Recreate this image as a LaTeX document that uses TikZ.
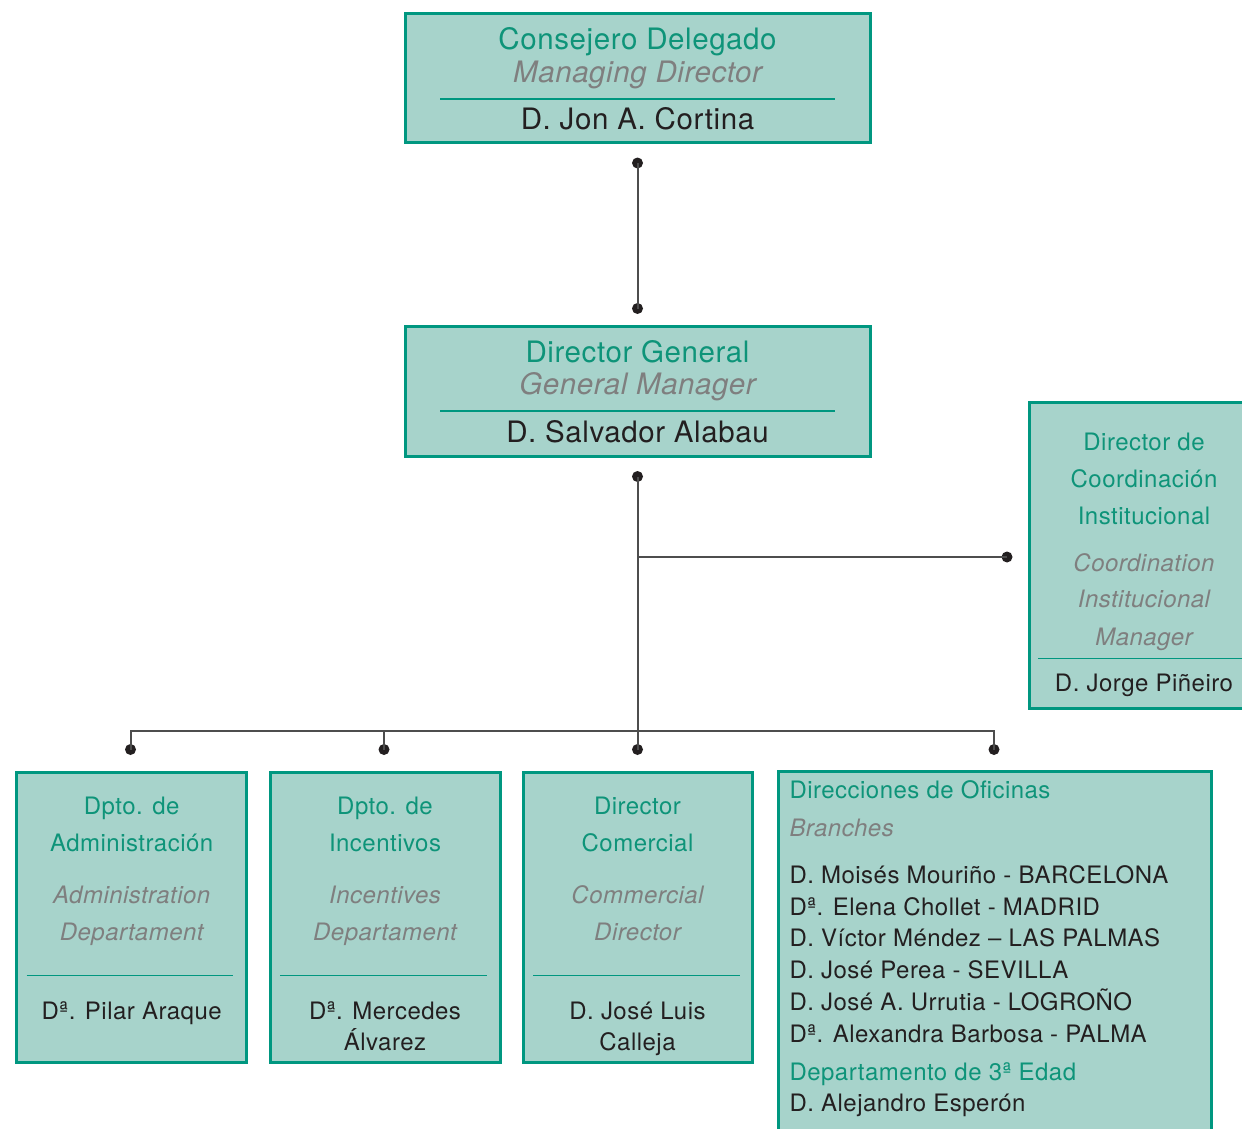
\documentclass[tikz,border=0pt]{standalone}
\usepackage{fontspec}
\setmainfont{TeX Gyre Heros}[LetterSpace=2]
\definecolor{boxfill}{HTML}{A7D3CB}
\definecolor{boxline}{HTML}{009780}
\definecolor{tgreen}{HTML}{0E9479}
\definecolor{tgray}{HTML}{7F7F7F}
\definecolor{tdark}{HTML}{231F20}
\definecolor{conn}{HTML}{4D4D4D}
\newcommand\fbig{\fontsize{29.5}{34}\selectfont}
\newcommand\fsml{\fontsize{24}{28}\selectfont}
\tikzset{
  orgbox/.style={draw=boxline, fill=boxfill, line width=3pt, inner sep=0pt, rectangle},
  big/.style={font=\fbig, anchor=base, inner sep=0pt},
  sml/.style={font=\fsml, anchor=base, inner sep=0pt},
  tg/.style={text=tgreen},
  ti/.style={text=tgray, font=\fsml\itshape},
  tib/.style={text=tgray, font=\fbig\itshape},
  td/.style={text=tdark},
  rule/.style={draw=boxline, line width=1.2pt},
  conline/.style={draw=conn, line width=2pt},
  dot/.style={circle, fill=tdark, inner sep=0pt, minimum size=11pt}
}
\begin{document}
\begin{tikzpicture}[x=1pt, y=-1pt]
\clip (0,0) rectangle (1242,1129);
\fill[white] (0,0) rectangle (1242,1129);

% ---- boxes
\node[orgbox, minimum width=465pt, minimum height=129pt] (cd) at (637.5,78.5) {};
\node[orgbox, minimum width=465pt, minimum height=130pt] (dg) at (637.5,391) {};
\node[orgbox, minimum width=230pt, minimum height=306pt] (dci) at (1144,555.5) {};
\node[orgbox, minimum width=230pt, minimum height=290pt] (adm) at (131.7,917) {};
\node[orgbox, minimum width=230pt, minimum height=290pt] (inc) at (385,917) {};
\node[orgbox, minimum width=229pt, minimum height=290pt] (com) at (637.5,917) {};
\node[orgbox, minimum width=433pt, minimum height=380pt] (ofi) at (995,961.7) {};

% ---- top box
\node[big, tg] (cd1) at (637.5,50) {Consejero Delegado};
\node[big, tib] (cd2) at (637.5,82.7) {Managing Director};
\draw[rule] (440,99) -- (835,99);
\node[big, td] (cd3) at (637.5,130) {D. Jon A. Cortina};

% ---- second box
\node[big, tg] (dg1) at (637.5,362) {Director General};
\node[big, tib] (dg2) at (637.5,394.7) {General Manager};
\draw[rule] (440,411) -- (835,411);
\node[big, td] (dg3) at (637.5,442) {D. Salvador Alabau};

% ---- right box
\node[sml, tg] (dc1) at (1144,450) {Director de};
\node[sml, tg] (dc2) at (1144,487.7) {Coordinación};
\node[sml, tg] (dc3) at (1144,524.5) {Institucional};
\node[sml, ti] (dc4) at (1144,571) {Coordination};
\node[sml, ti] (dc5) at (1144,607.7) {Institucional};
\node[sml, ti] (dc6) at (1144,645) {Manager};
\draw[rule] (1038,658.3) -- (1242,658.3);
\node[sml, td] (dc7) at (1144,691.7) {D. Jorge Piñeiro};

% ---- administration
\node[sml, tg] (ad1) at (131.7,814) {Dpto. de};
\node[sml, tg] (ad2) at (131.7,851.7) {Administración};
\node[sml, ti] (ad3) at (131.7,903.3) {Administration};
\node[sml, ti] (ad4) at (131.7,940) {Departament};
\draw[rule] (26.7,975.3) -- (233,975.3);
\node[sml, td] (ad5) at (131.7,1019) {Dª. Pilar Araque};

% ---- incentivos
\node[sml, tg] (in1) at (385,814) {Dpto. de};
\node[sml, tg] (in2) at (385,851.7) {Incentivos};
\node[sml, ti] (in3) at (385,903.3) {Incentives};
\node[sml, ti] (in4) at (385,940) {Departament};
\draw[rule] (280,975.3) -- (487,975.3);
\node[sml, td] (in5) at (385,1019) {Dª. Mercedes};
\node[sml, td] (in6) at (385,1050.5) {Álvarez};

% ---- comercial
\node[sml, tg] (co1) at (637.5,814) {Director};
\node[sml, tg] (co2) at (637.5,851.7) {Comercial};
\node[sml, ti] (co3) at (637.5,903.3) {Commercial};
\node[sml, ti] (co4) at (637.5,940) {Director};
\draw[rule] (533,975.3) -- (740,975.3);
\node[sml, td] (co5) at (637.5,1019) {D. José Luis};
\node[sml, td] (co6) at (637.5,1050.5) {Calleja};

% ---- oficinas
\node[sml, tg, anchor=base west] (of1) at (789.3,798.3) {Direcciones de Oficinas};
\node[sml, ti, anchor=base west] (of2) at (789.3,836) {Branches};
\node[sml, td, anchor=base west] (of3) at (789.3,883.3) {D. Moisés Mouriño - BARCELONA};
\node[sml, td, anchor=base west] (of4) at (789.3,915) {Dª. Elena Chollet - MADRID};
\node[sml, td, anchor=base west] (of5) at (789.3,946.7) {D. Víctor Méndez – LAS PALMAS};
\node[sml, td, anchor=base west] (of6) at (789.3,978.3) {D. José Perea - SEVILLA};
\node[sml, td, anchor=base west] (of7) at (789.3,1010.7) {D. José A. Urrutia - LOGROÑO};
\node[sml, td, anchor=base west] (of8) at (789.3,1042.7) {Dª. Alexandra Barbosa - PALMA};
\node[sml, tg, anchor=base west] (of9) at (789.3,1080) {Departamento de 3ª Edad};
\node[sml, td, anchor=base west] (of10) at (789.3,1111.7) {D. Alejandro Esperón};

% ---- connectors
\node[dot] (p1) at (637.5,163) {};
\node[dot] (p2) at (637.5,308.5) {};
\node[dot] (p3) at (637.5,476.5) {};
\node[dot] (p4) at (1007,557) {};
\node[dot] (q1) at (130.5,749.5) {};
\node[dot] (q2) at (384,749.5) {};
\node[dot] (q3) at (637.5,749.5) {};
\node[dot] (q4) at (994,749.5) {};
\coordinate (j1) at (637.5,557);
\coordinate (h1) at (130.5,731);
\coordinate (h4) at (994,731);

\draw[conline] (p1.center) -- (p2.center);
\draw[conline] (p3.center) -- (q3.center);
\draw[conline] (j1) -- (p4.center);
\draw[conline] (q1.center) -- (h1) -- (h4) -- (q4.center);
\draw[conline] (q2.center) -- (q2.center |- h1);
\end{tikzpicture}
\end{document}
